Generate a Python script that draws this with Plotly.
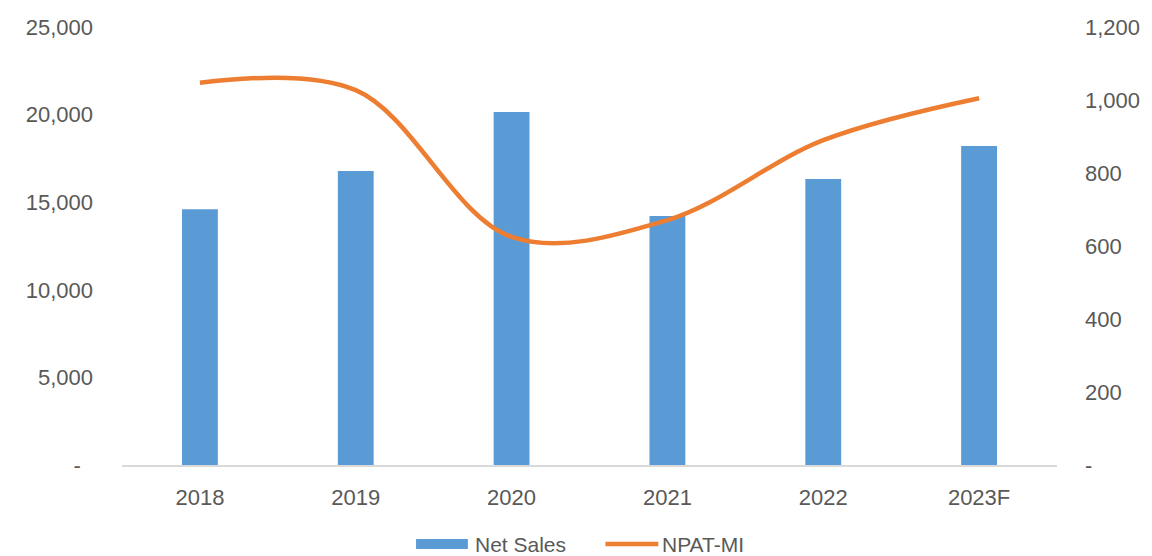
import plotly.graph_objects as go

years = ["2018", "2019", "2020", "2021", "2022", "2023F"]
net_sales = [14600, 16780, 20150, 14210, 16320, 18210]
npat_mi = [1047, 1027, 625, 671, 890, 1005]

left_ticks = [0, 5000, 10000, 15000, 20000, 25000]
left_text = ["-\u00a0\u00a0", "5,000", "10,000", "15,000", "20,000", "25,000"]
right_ticks = [0, 200, 400, 600, 800, 1000, 1200]
right_text = ["-", "200", "400", "600", "800", "1,000", "1,200"]

BAR_C = "#5B9BD5"
LINE_C = "#ED7D31"
TXT = "#595959"
FONT = "Liberation Sans, Arial, sans-serif"
FS = 22

fig = go.Figure()
fig.add_trace(go.Bar(x=years, y=net_sales, name="Net Sales", marker_color=BAR_C,
                     marker_line_width=0, yaxis="y", showlegend=False))
fig.add_trace(go.Scatter(x=years, y=npat_mi, name="NPAT-MI", mode="lines",
                         line=dict(color=LINE_C, width=4.5, shape="spline", smoothing=1.0),
                         yaxis="y2", showlegend=False))

W, H = 1152, 556
L, R, T, B = 122, 92, 27, 91
pw = W - L - R
ph = H - T - B

def px(x):
    return (x - L) / pw

def py(y):
    return (H - B - y) / ph

LEG_Y = 544
shapes = [
    dict(type="rect", xref="paper", yref="paper", x0=px(417), x1=px(469),
         y0=py(LEG_Y + 5), y1=py(LEG_Y - 5), fillcolor=BAR_C, line_width=0),
    dict(type="line", xref="paper", yref="paper", x0=px(607), x1=px(660),
         y0=py(LEG_Y), y1=py(LEG_Y), line=dict(color=LINE_C, width=4.5)),
]
annotations = [
    dict(text="Net Sales", xref="paper", yref="paper", x=px(474), y=py(LEG_Y),
         xanchor="left", yanchor="middle", showarrow=False,
         font=dict(family=FONT, size=21, color=TXT)),
    dict(text="NPAT-MI", xref="paper", yref="paper", x=px(662), y=py(LEG_Y),
         xanchor="left", yanchor="middle", showarrow=False,
         font=dict(family=FONT, size=21, color=TXT)),
]

fig.update_layout(
    width=W, height=H,
    margin=dict(l=L, r=R, t=T, b=B),
    paper_bgcolor="white", plot_bgcolor="white",
    bargap=0.77,
    showlegend=False,
    font=dict(family=FONT, size=FS, color=TXT),
    xaxis=dict(type="category", showgrid=False, showline=True, linecolor="#D9D9D9",
               linewidth=1.5, ticks="", ticklabelstandoff=12,
               tickfont=dict(size=FS, color=TXT)),
    yaxis=dict(range=[0, 25000], tickvals=left_ticks, ticktext=left_text,
               showgrid=False, zeroline=False, showline=False, ticks="",
               ticklabelstandoff=28, tickfont=dict(size=FS, color=TXT)),
    yaxis2=dict(range=[0, 1200], tickvals=right_ticks, ticktext=right_text,
                overlaying="y", side="right", showgrid=False, zeroline=False,
                showline=False, ticks="", ticklabelstandoff=27,
                tickfont=dict(size=FS, color=TXT)),
    shapes=shapes,
    annotations=annotations,
)

fig.write_html("out.html")
